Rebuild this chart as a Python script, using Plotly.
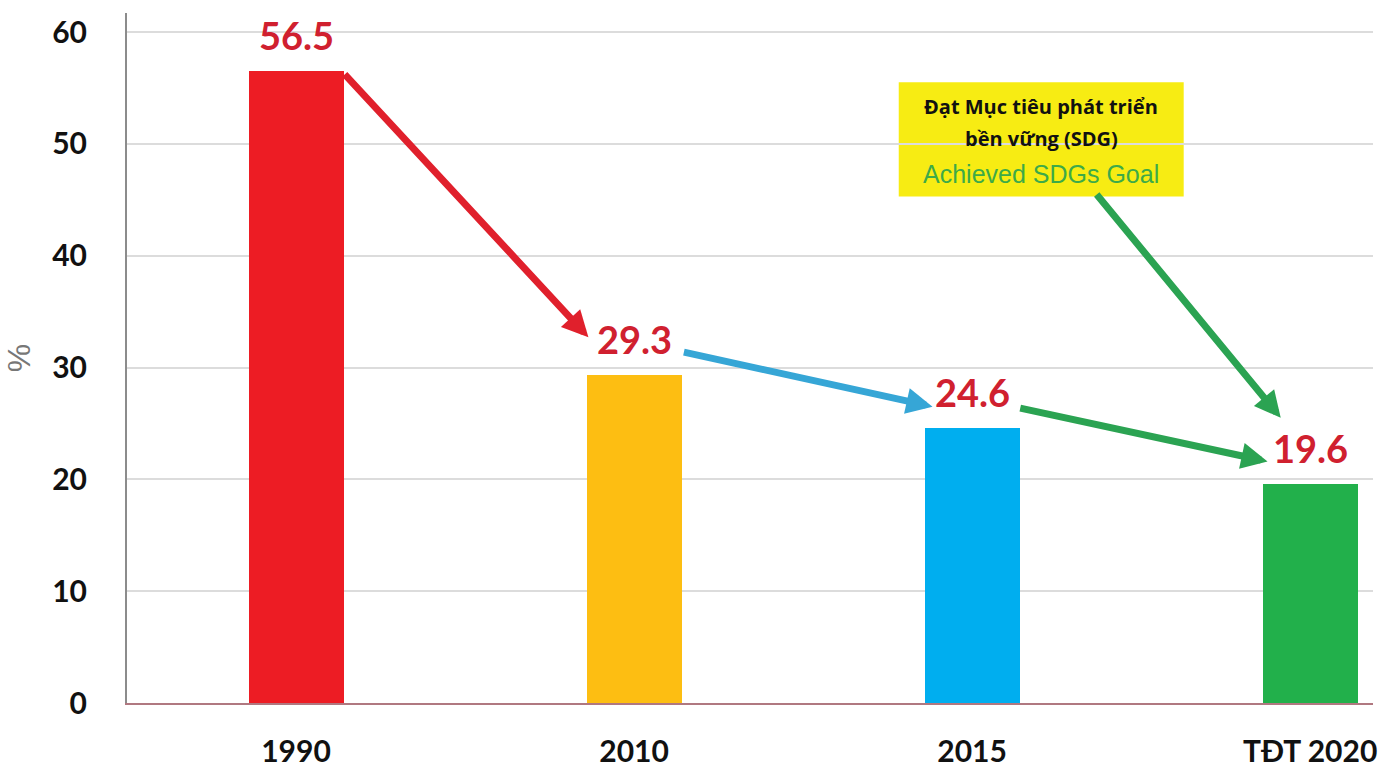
import plotly.graph_objects as go

# ---- data ----
categories = ["1990", "2010", "2015", "TĐT 2020"]
values = [56.5, 29.3, 24.6, 19.6]
bar_colors = ["#ED1C24", "#FDBE12", "#00AEEF", "#22B04B"]
y_ticks = [0, 10, 20, 30, 40, 50, 60]

# arrows: (start_x, start_y, end_x, end_y, color) in data units
arrows = [
    (0.14, 56.35, 0.865, 32.7, "#E0202C"),
    (1.143, 31.4, 1.883, 26.5, "#36A6D6"),
    (2.138, 26.4, 2.874, 21.6, "#2BA352"),
    (2.365, 45.6, 2.913, 25.5, "#2BA352"),
]

x_pos = list(range(len(categories)))

fig = go.Figure()
fig.add_trace(go.Bar(
    x=x_pos, y=values, width=0.281,
    marker=dict(color=bar_colors, line=dict(width=0)),
    hoverinfo="skip",
))

annotations = []
# value labels
for xi, v in zip(x_pos, values):
    annotations.append(dict(
        x=xi, y=v, xref="x", yref="y", text=f"{v}", showarrow=False,
        yanchor="middle", yshift=36,
        font=dict(family="Lato", size=38, color="#D0202F", weight="bold"),
    ))

# arrows
for sx, sy, ex, ey, col in arrows:
    annotations.append(dict(
        x=ex, y=ey, ax=sx, ay=sy, xref="x", yref="y", axref="x", ayref="y",
        text="", showarrow=True, arrowhead=2, arrowsize=0.75, arrowwidth=7,
        arrowcolor=col, standoff=0, startstandoff=0,
    ))

# yellow note box text
box_cx = 2.204
annotations += [
    dict(x=box_cx, y=53.3, xref="x", yref="y", text="Đạt Mục tiêu phát triển",
         showarrow=False, font=dict(family="Open Sans", size=20, color="#111111", weight="bold")),
    dict(x=box_cx, y=50.5, xref="x", yref="y", text="bền vững (SDG)",
         showarrow=False, font=dict(family="Open Sans", size=20, color="#111111", weight="bold")),
    dict(x=box_cx, y=47.3, xref="x", yref="y", text="Achieved SDGs Goal",
         showarrow=False, font=dict(family="Liberation Sans", size=25, color="#3DAA48")),
]

fig.add_shape(type="rect", xref="x", yref="y", x0=1.783, x1=2.626, y0=45.3, y1=55.5,
              fillcolor="#F7EC13", line=dict(width=0), layer="below")

fig.update_layout(
    width=1384, height=769,
    margin=dict(l=127, r=11, t=13, b=66, autoexpand=False),
    paper_bgcolor="white", plot_bgcolor="white",
    showlegend=False,
    annotations=annotations,
    bargap=0,
)
fig.update_xaxes(
    range=[-0.5, 3.186], tickvals=x_pos, ticktext=categories,
    showgrid=False, zeroline=False, showline=True, linecolor="#B07880", linewidth=2,
    ticks="", ticklabelstandoff=21, automargin=False,
    tickfont=dict(family="Lato", size=30, color="#111111", weight="bold"),
)
fig.update_yaxes(
    range=[0, 61.7], tickvals=y_ticks,
    showgrid=True, gridcolor="#DCDCDC", gridwidth=1.5, zeroline=False,
    showline=True, linecolor="#8C8C8C", linewidth=2,
    ticks="", ticklabelstandoff=32, automargin=False,
    tickfont=dict(family="Lato", size=30, color="#111111", weight="bold"),
    title=dict(text="%", font=dict(family="Liberation Sans", size=32, color="#777777"), standoff=12),
)

fig.write_html("out.html")
